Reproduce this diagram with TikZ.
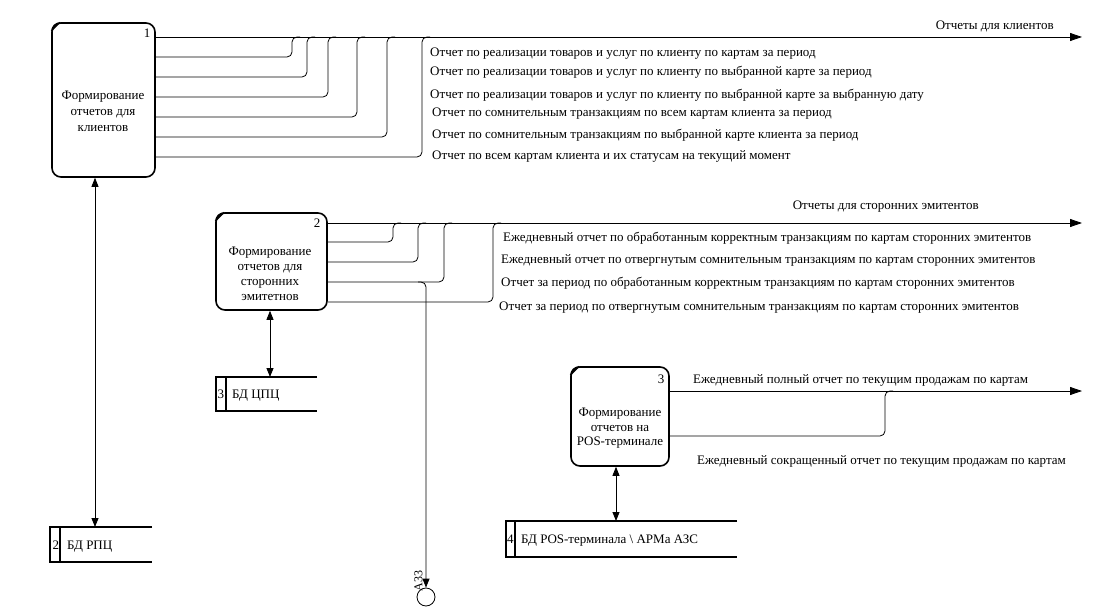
\documentclass[tikz,border=0pt]{standalone}
\usepackage{fontspec}
\setmainfont{Liberation Serif}
\usetikzlibrary{arrows.meta,calc}
\begin{document}
\begin{tikzpicture}[x=1pt,y=-1pt,
  font=\fontsize{13}{15}\selectfont,
  proc/.style={draw, line width=1.6pt, rounded corners=9pt, inner sep=0pt},
  ptext/.style={align=center, inner sep=0pt},
  flow/.style={line width=0.8pt, rounded corners=5pt},
  outarrow/.style={-{Triangle[length=12pt,width=8pt]}},
  dbl/.style={line width=0.8pt,{Triangle[length=9pt,width=7pt]}-{Triangle[length=9pt,width=7pt]}},
  lbl/.style={anchor=base west, inner sep=0pt},
  rlbl/.style={anchor=base east, inner sep=0pt},
  storeline/.style={line width=1.6pt},
  holder/.style={inner sep=0pt, outer sep=0pt}
]
\useasboundingbox (0,0) rectangle (1101,607);

% ---------- processes ----------
\node[proc, minimum width=103pt, minimum height=154pt] (p1) at (103.5,100) {};
\node[proc, minimum width=111pt, minimum height=97pt] (p2) at (271.5,261.5) {};
\node[proc, minimum width=98pt, minimum height=99pt] (p3) at (620,416.5) {};
\foreach \p in {p1,p2,p3}{
  \fill ($(\p.north west)+(0,9)$) arc[start angle=180,end angle=90,radius=9pt] -- cycle;
  \draw[line width=1.2pt] ($(\p.north west)+(0,9)$) -- ($(\p.north west)+(9,0)$);
}
\node[ptext, font=\fontsize{13}{16}\selectfont] (t1) at (103,111) {Формирование\\отчетов для\\клиентов};
\node[ptext] (t2) at (270,273.5) {Формирование\\отчетов для\\сторонних\\эмитетнов};
\node[ptext, font=\fontsize{13}{14.5}\selectfont] (t3) at (620,428.5) {Формирование\\отчетов на\\POS-терминале};
\node[inner sep=0pt] (n1) at (147,33) {1};
\node[inner sep=0pt] (n2) at (317,223) {2};
\node[inner sep=0pt] (n3) at (661,379) {3};

% ---------- data stores ----------
\node[holder, minimum width=102pt, minimum height=35pt] (d1) at (101,544.5) {};
\node[holder, minimum width=101pt, minimum height=34pt] (d2) at (266.5,394) {};
\node[holder, minimum width=231pt, minimum height=36pt] (d3) at (621.5,539) {};
\foreach \d/\w in {d1/10,d2/10,d3/9}{
  \draw[storeline] (\d.north east) -- (\d.north west) -- (\d.south west) -- (\d.south east);
  \draw[storeline] ($(\d.north west)+(\w,0)$) -- ($(\d.south west)+(\w,0)$);
}
\node[lbl] (s1n) at (52.5,549.5) {2};
\node[lbl] (s1t) at (67,549.5) {БД РПЦ};
\node[lbl] (s2n) at (217.5,398.5) {3};
\node[lbl] (s2t) at (232,398.5) {БД ЦПЦ};
\node[lbl] (s3n) at (507,543.5) {4};
\node[lbl] (s3t) at (521,543.5) {БД POS-терминала \textbackslash{} АРМа АЗС};

% ---------- process <-> store ----------
\coordinate (x1) at (95,0);
\coordinate (x2) at (270,0);
\coordinate (x3) at (616,0);
\draw[dbl] (p1.south -| x1) -- (d1.north -| x1);
\draw[dbl] (p2.south -| x2) -- (d2.north -| x2);
\draw[dbl] (p3.south -| x3) -- (d3.north -| x3);

% ---------- outputs of process 1 ----------
\coordinate (e1) at (1082,37);
\draw[flow,outarrow] (p1.east |- e1) -- (e1);
\foreach \y/\x in {57/292,77/307,97/328,117/357,137/387,157/422}{
  \draw[flow] (p1.east |- 0,\y) -- (\x,\y) -- (\x,37) -- (\x+8,37);
}
\node[rlbl] (l0) at (1054,29.5) {Отчеты для клиентов};
\node[lbl] (l1) at (430,56.5) {Отчет по реализации товаров и услуг по клиенту по картам за период};
\node[lbl] (l2) at (430,75.5) {Отчет по реализации товаров и услуг по клиенту по выбранной карте за период};
\node[lbl] (l3) at (430,98.5) {Отчет по реализации товаров и услуг по клиенту по выбранной карте за выбранную дату};
\node[lbl] (l4) at (432,117) {Отчет по сомнительным транзакциям по всем картам клиента за период};
\node[lbl] (l5) at (432,139) {Отчет по сомнительным транзакциям по выбранной карте клиента за период};
\node[lbl] (l6) at (432,160) {Отчет по всем картам клиента и их статусам на текущий момент};

% ---------- outputs of process 2 ----------
\coordinate (e2) at (1082,223);
\draw[flow,outarrow] (p2.east |- e2) -- (e2);
\foreach \y/\x in {242/393,262/418,282/444,302/493}{
  \draw[flow] (p2.east |- 0,\y) -- (\x,\y) -- (\x,223) -- (\x+8,223);
}
\node[draw, circle, line width=0.8pt, minimum size=18pt, inner sep=0pt] (c33) at (426,597) {};
\draw[flow,-{Triangle[length=9pt,width=7pt]}] (418,282) -- (426,282) -- (c33.north);
\node[inner sep=0pt, rotate=90, font=\fontsize{12}{13}\selectfont] (a33) at (418.5,581) {A33};
\node[rlbl] (m0) at (979,209.5) {Отчеты для сторонних эмитентов};
\node[lbl] (m1) at (503,241.5) {Ежедневный отчет по обработанным корректным транзакциям по картам сторонних эмитентов};
\node[lbl] (m2) at (501,263) {Ежедневный отчет по отвергнутым сомнительным транзакциям по картам сторонних эмитентов};
\node[lbl] (m3) at (501,286.5) {Отчет за период по обработанным корректным транзакциям по картам сторонних эмитентов};
\node[lbl] (m4) at (499,310) {Отчет за период по отвергнутым сомнительным транзакциям по картам сторонних эмитентов};

% ---------- outputs of process 3 ----------
\coordinate (e3) at (1082,391);
\draw[flow,outarrow] (p3.east |- e3) -- (e3);
\draw[flow] (p3.east |- 0,436) -- (885,436) -- (885,391) -- (893,391);
\node[lbl] (k1) at (693,383.5) {Ежедневный полный отчет по текущим продажам по картам};
\node[lbl] (k2) at (697,464.5) {Ежедневный сокращенный отчет по текущим продажам по картам};
\end{tikzpicture}
\end{document}
